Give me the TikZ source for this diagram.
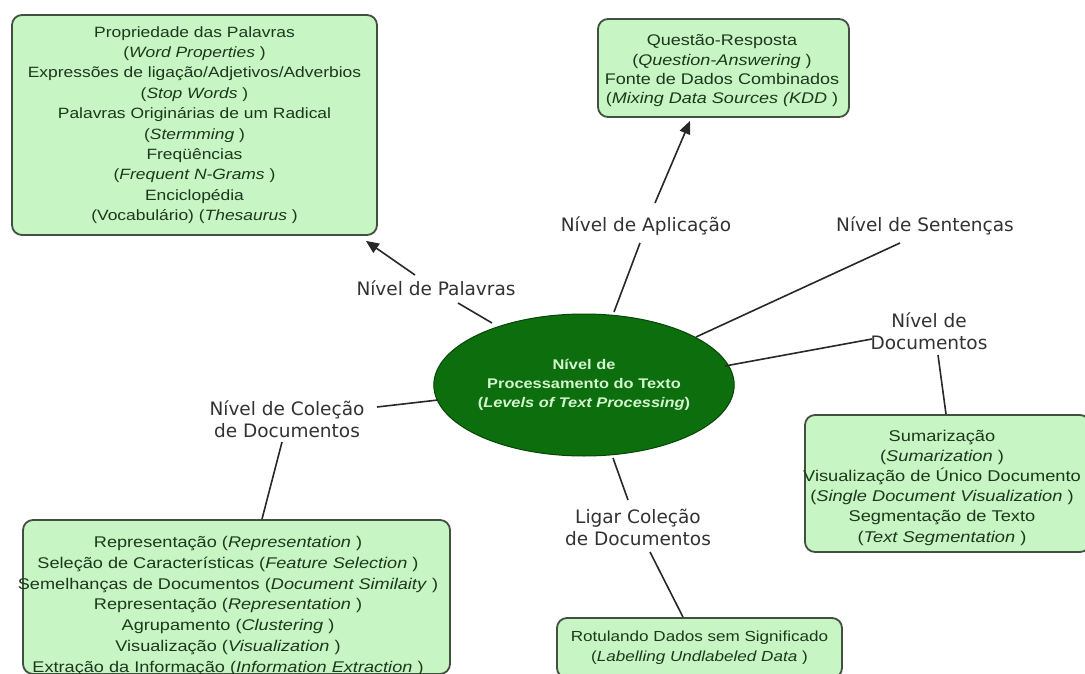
\documentclass[tikz,border=0pt]{standalone}
\usepackage{fontspec}
\setmainfont{Liberation Sans}
\newfontfamily\boxfont[FakeStretch=1.17]{Liberation Sans}
\newfontfamily\lblfont{DejaVu Sans}
\usetikzlibrary{shapes.geometric,arrows.meta,calc}
\definecolor{boxfill}{RGB}{200,245,196}
\definecolor{boxline}{RGB}{66,80,66}
\definecolor{boxtext}{RGB}{28,56,28}
\definecolor{ellfill}{RGB}{12,110,12}
\definecolor{ellline}{RGB}{8,70,8}
\definecolor{elltext}{RGB}{212,246,206}
\definecolor{lbltext}{RGB}{50,50,50}
\definecolor{linkcol}{RGB}{40,40,40}
\begin{document}
\begin{tikzpicture}[x=1pt,y=-1pt,
  infobox/.style={draw=boxline, line width=1.8pt, fill=boxfill, rounded corners=10pt,
    align=center, text=boxtext, inner sep=0pt},
  infotext/.style={align=center, text=boxtext, inner sep=0pt},
  levellabel/.style={font=\lblfont\fontsize{18.5}{22}\selectfont, text=lbltext,
    align=center, inner sep=1pt},
  oneline/.style={text height=14pt, text depth=4pt},
  link/.style={draw=linkcol, line width=1.6pt},
  linkarrow/.style={link, -{Triangle[length=13pt,width=11pt]}},
]
\path[use as bounding box, fill=white] (0,0) rectangle (1085,674);
\clip (0,0) rectangle (1085,674);

% word-level topics
\node[infobox, minimum width=365pt, minimum height=220pt,
      font=\boxfont\fontsize{14.9}{20.4}\selectfont] (tl) at (194.5,125)
  {Propriedade das Palavras\\
   (\textit{Word Properties} )\\
   Expressões de ligação/Adjetivos/Adverbios\\
   (\textit{Stop Words} )\\
   Palavras Originárias de um Radical\\
   (\textit{Stermming} )\\
   Freqüências\\
   (\textit{Frequent N-Grams} )\\
   Enciclopédia\\
   (Vocabulário) (\textit{Thesaurus} )};

% application-level topics
\node[infobox, minimum width=251pt, minimum height=98pt] (tm) at (723.5,68) {};
\node[infotext, font=\boxfont\fontsize{15.4}{19.3}\selectfont] (tmtext) at (722,71)
  {Questão-Resposta\\
   (\textit{Question-Answering} )\\
   Fonte de Dados Combinados\\
   (\textit{Mixing Data Sources (KDD} )};

% document-level topics
\node[infobox, minimum width=285pt, minimum height=137pt] (rb) at (947.5,483.5) {};
\node[infotext, font=\boxfont\fontsize{15.6}{20.2}\selectfont] (rbtext) at (942,487.5)
  {Sumarização\\
   (\textit{Sumarization} )\\
   Visualização de Único Documento\\
   (\textit{Single Document Visualization} )\\
   Segmentação de Texto\\
   (\textit{Text Segmentation} )};

% collection-level topics
\node[infobox, minimum width=427pt, minimum height=154pt] (bl) at (236.5,597) {};
\node[infotext, font=\boxfont\fontsize{15.5}{20.8}\selectfont] (bltext) at (228,606)
  {Representação (\textit{Representation} )\\
   Seleção de Características (\textit{Feature Selection} )\\
   Semelhanças de Documentos (\textit{Document Similaity} )\\
   Representação (\textit{Representation} )\\
   Agrupamento (\textit{Clustering} )\\
   Visualização (\textit{Visualization} )\\
   Extração da Informação (\textit{Information Extraction} )};

% linked collections
\node[infobox, minimum width=285pt, minimum height=60pt,
      font=\boxfont\fontsize{14.6}{20}\selectfont] (bm) at (699.5,648)
  {Rotulando Dados sem Significado\\
   (\textit{Labelling Undlabeled Data} )};

% central concept
\node[ellipse, draw=ellline, line width=1pt, fill=ellfill, minimum width=286pt,
      minimum height=142pt, inner sep=0pt, text=elltext, align=center,
      font=\boxfont\bfseries\fontsize{14}{19}\selectfont] (c) at (584,385)
  {Nível de\\Processamento do Texto\\(\textit{Levels of Text Processing})};

% level labels
\node[levellabel, oneline] (pal) at (436,290) {Nível de Palavras};
\node[levellabel, oneline] (apl) at (646,227) {Nível de Aplicação};
\node[levellabel, oneline] (sen) at (925,227) {Nível de Sentenças};
\node[levellabel] (doc) at (929,331) {Nível de\\Documentos};
\node[levellabel] (col) at (287,419) {Nível de Coleção\\de Documentos};
\node[levellabel] (lig) at (638,527.5) {Ligar Coleção\\de Documentos};

% connectors
\draw[link] ($(c)+(-92,-62)$) -- ($(pal)+(22,13)$);
\draw[linkarrow] ($(pal)+(-21,-15)$) -- ($(tl.south east)+(-12,5)$);
\draw[link] ($(c)+(30,-73)$) -- ($(apl)+(-6,16)$);
\draw[linkarrow] ($(apl)+(9,-24)$) -- ($(tm.south)+(-33.5,3)$);
\draw[link] ($(c)+(112,-48)$) -- ($(sen)+(-25,16)$);
\draw[link] ($(c)+(141,-19)$) -- ($(doc)+(-57,8)$);
\draw[link] ($(doc)+(9,24)$) -- ($(rb.north)+(-1.5,0)$);
\draw[link] ($(c)+(-146,15)$) -- ($(col)+(90,-12)$);
\draw[link] ($(col)+(-5,23)$) -- ($(bl.north)+(25.5,0)$);
\draw[link] ($(c)+(29,73)$) -- ($(lig)+(-10,-27.5)$);
\draw[link] ($(lig)+(12,24.5)$) -- ($(bm.north)+(-16.5,0)$);
\end{tikzpicture}
\end{document}
